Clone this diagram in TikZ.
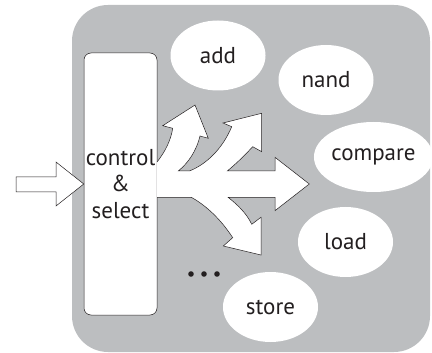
\documentclass[tikz,border=0pt]{standalone}
\usepackage{fontspec}
\setmainfont{PT Sans}
\usepackage{tikz}
\usetikzlibrary{shapes.geometric}

\definecolor{panelgray}{RGB}{188,190,192}
\definecolor{inkcol}{RGB}{35,31,32}

\tikzset{
    op/.style={ellipse, fill=white, minimum width=95pt, minimum height=70pt,
        inner sep=0pt, text=inkcol, font=\fontsize{23}{26}\selectfont},
    outline/.style={draw=inkcol, line width=0.5pt, fill=white, line join=miter}
}

\begin{document}
\begin{tikzpicture}[x=1pt, y=-1pt]
    \useasboundingbox (0,0) rectangle (432,353);

    % Drawing the grey panel
    \fill[panelgray, rounded corners=36pt] (72,5) rectangle (430,352);

    % Control and select unit
    \node[outline, rounded corners=7pt, minimum width=73pt, minimum height=262pt,
        inner sep=0pt, align=center, text=inkcol,
        font=\fontsize{23}{26.5}\selectfont] (ctrl) at (120.5,184)
        {control\\[-0.5pt]\&\\select};

    % Input arrow into the unit
    \draw[outline] (16,177) -- (56,177) -- (56,162) -- (ctrl.west)
        -- (56,206) -- (56,192) -- (16,192) -- cycle;

    % Fan of arrows out of the unit
    \filldraw[outline] (157,162)
        .. controls (165,152) and (171,140) .. (172.7,128.3)
        -- (162.7,125.7) -- (195,105) -- (208.3,138.3) -- (200,136)
        .. controls (196,152) and (188,163) .. (178.3,171)
        -- (189.3,171)
        .. controls (205,165) and (222,150) .. (231.7,126.7)
        -- (223,123) -- (261.7,113.3) -- (261.7,151.7) -- (252.7,146.7)
        .. controls (245,155) and (237,163) .. (227.3,171)
        -- (275,171) -- (275,157.3) -- (309.3,184) -- (275,210.7)
        -- (275,197.5) -- (228.3,197.5)
        .. controls (238,205) and (247,214) .. (251.7,224.3)
        -- (261,217.3) -- (261,255) -- (223.3,246) -- (232.7,237.7)
        .. controls (220,218) and (205,205) .. (191.7,197.5)
        -- (157,197.5);

    % The operations
    \node[op] (add) at (218,55.5) {add};
    \node[op] (nand) at (326,80) {nand};
    \node[op] (compare) at (373.5,157) {compare};
    \node[op] (load) at (345.5,242) {load};
    \node[op] (store) at (270.5,307) {store};

    % More operations
    \foreach \x in {191,204,217} {
        \fill[inkcol] (\x,274) circle (2.8pt);
    }
\end{tikzpicture}
\end{document}
